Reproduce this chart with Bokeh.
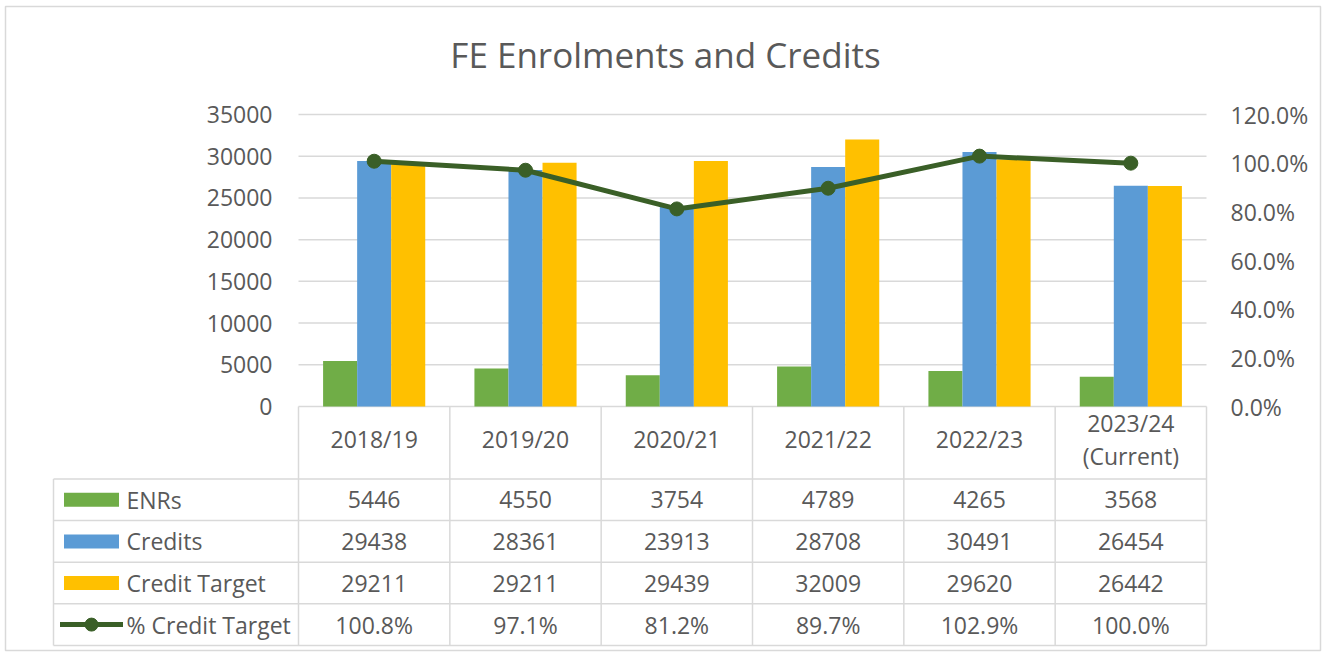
from bokeh.plotting import figure
from bokeh.models import (Range1d, LinearAxis, FixedTicker, NumeralTickFormatter,
                          ColumnDataSource)
from bokeh.embed import file_html
from bokeh.resources import INLINE
from bokeh.core.properties import value

# ---------------- data ----------------
title = "FE Enrolments and Credits"
categories = ["2018/19", "2019/20", "2020/21", "2021/22", "2022/23", "2023/24\n(Current)"]
series_names = ["ENRs", "Credits", "Credit Target", "% Credit Target"]
enrs = [5446, 4550, 3754, 4789, 4265, 3568]
credits = [29438, 28361, 23913, 28708, 30491, 26454]
credit_target = [29211, 29211, 29439, 32009, 29620, 26442]
pct_credit_target = [1.008, 0.971, 0.812, 0.897, 1.029, 1.000]
left_ticks = [0, 5000, 10000, 15000, 20000, 25000, 30000, 35000]
right_ticks = [0.0, 0.2, 0.4, 0.6, 0.8, 1.0, 1.2]
LEFT_MAX, RIGHT_MAX = 35000, 1.2

# ---------------- style / layout ----------------
FONT = "Open Sans"
FS = "23px"
TXT = "#595959"
GRID = "#d9d9d9"
BAR_COLORS = ["#70AD47", "#5B9BD5", "#FFC000"]
LINE_C = "#3A5F27"

W, H = 1326, 655
PLOT_L, PLOT_R, PLOT_T, PLOT_B = 298, 1206, 114, 406
n = len(categories)
COLW = (PLOT_R - PLOT_L) / n
PLOT_H = PLOT_B - PLOT_T
BAR_W = 0.225


def vrange(vmax):
    per_px = vmax / PLOT_H
    return Range1d(-(H - PLOT_B) * per_px, vmax + PLOT_T * per_px)


p = figure(width=W, height=H,
           x_range=Range1d(-PLOT_L / COLW, (W - PLOT_L) / COLW),
           y_range=vrange(LEFT_MAX),
           x_axis_location=None, y_axis_location="left",
           output_backend="svg", toolbar_location=None,
           min_border_left=0, min_border_right=0, min_border_top=0, min_border_bottom=0)
p.outline_line_color = None
p.grid.visible = False
p.extra_y_ranges = {"pct": vrange(RIGHT_MAX), "px": Range1d(H, 0)}
p.extra_x_ranges = {"px": Range1d(0, W)}

# chart border
p.quad(left=[5], right=[W - 6], top=[6], bottom=[650], x_range_name="px",
       y_range_name="px", fill_color=None, line_color=GRID, line_width=1.5)

# gridlines at tick values
p.segment(x0=[0] * len(left_ticks), x1=[n] * len(left_ticks), y0=left_ticks,
          y1=left_ticks, line_color=GRID, line_width=1.5)

xs = [i + 0.5 for i in range(n)]
src = ColumnDataSource(dict(x=xs, enrs=enrs, credits=credits,
                            target=credit_target, pct=pct_credit_target))
for off, col, c in zip([-BAR_W, 0, BAR_W], ["enrs", "credits", "target"], BAR_COLORS):
    p.vbar(x=[v + off for v in xs], top=src.data[col], width=BAR_W,
           fill_color=c, line_color=None)

p.line(x="x", y="pct", source=src, y_range_name="pct", line_color=LINE_C,
       line_width=5, line_join="round")
p.scatter(x="x", y="pct", source=src, y_range_name="pct", size=14,
          fill_color=LINE_C, line_color=LINE_C)

# axes
lax = p.yaxis[0]
lax.fixed_location = 0
lax.ticker = FixedTicker(ticks=left_ticks)
lax.formatter = NumeralTickFormatter(format="0")
rax = LinearAxis(y_range_name="pct", ticker=FixedTicker(ticks=right_ticks),
                 formatter=NumeralTickFormatter(format="0.0%"), fixed_location=n)
p.add_layout(rax, "right")
for ax, so in [(lax, 26), (rax, 24)]:
    ax.axis_line_color = None
    ax.major_tick_line_color = None
    ax.minor_tick_line_color = None
    ax.major_tick_in = 0
    ax.major_tick_out = 0
    ax.major_label_standoff = so
    ax.major_label_text_font = FONT
    ax.major_label_text_font_size = FS
    ax.major_label_text_color = TXT

# title
p.text(x=[665], y=[54], text=[title], x_range_name="px", y_range_name="px",
       text_align="center", text_baseline="middle", text_font=value(FONT),
       text_font_size=value("35px"), text_color=TXT)

# ---------------- data table ----------------
col_edges = [PLOT_L + i * COLW for i in range(n + 1)]
col_centers = [PLOT_L + (i + 0.5) * COLW for i in range(n)]
TBL_L = 53
HEAD_T, HEAD_B, ROW_H = PLOT_B, 478.5, 41.6
nrows = len(series_names)
row_edges = [HEAD_B + j * ROW_H for j in range(nrows + 1)]
row_centers = [HEAD_B + (j + 0.5) * ROW_H for j in range(nrows)]

x0, y0, x1, y1 = [], [], [], []
for ye in row_edges:
    x0.append(TBL_L); x1.append(col_edges[-1]); y0.append(ye); y1.append(ye)
for xe in col_edges:
    x0.append(xe); x1.append(xe); y0.append(HEAD_T); y1.append(row_edges[-1])
x0.append(TBL_L); x1.append(TBL_L); y0.append(HEAD_B); y1.append(row_edges[-1])
p.segment(x0=x0, y0=y0, x1=x1, y1=y1, x_range_name="px", y_range_name="px",
          line_color=GRID, line_width=1.5)

# header
p.text(x=col_centers, y=[(HEAD_T + HEAD_B) / 2 - 3.5] * n, text=categories,
       x_range_name="px", y_range_name="px",
       text_align="center", text_baseline="middle", text_font=value(FONT),
       text_font_size=value(FS), text_color=TXT, text_line_height=1.04)

# cells
rows_vals = [
    [str(v) for v in enrs],
    [str(v) for v in credits],
    [str(v) for v in credit_target],
    ["%.1f%%" % (v * 100) for v in pct_credit_target],
]
cx, cy, ct = [], [], []
for j, vals in enumerate(rows_vals):
    for i, s in enumerate(vals):
        cx.append(col_centers[i]); cy.append(row_centers[j]); ct.append(s)
p.text(x=cx, y=cy, text=ct, x_range_name="px", y_range_name="px",
       text_align="center", text_baseline="middle",
       text_font=value(FONT), text_font_size=value(FS), text_color=TXT)

# legend keys
KEY_CX = 91
p.rect(x=[KEY_CX] * 3, y=row_centers[:3], width=55, height=14,
       x_range_name="px", y_range_name="px", fill_color=BAR_COLORS, line_color=None)
p.segment(x0=[KEY_CX - 31.5], x1=[KEY_CX + 31.5], y0=[row_centers[3]], y1=[row_centers[3]],
          x_range_name="px", y_range_name="px", line_color=LINE_C, line_width=5)
p.scatter(x=[KEY_CX], y=[row_centers[3]], size=13, x_range_name="px", y_range_name="px",
          fill_color=LINE_C, line_color=LINE_C)
p.text(x=[126] * nrows, y=row_centers, text=series_names, x_range_name="px",
       y_range_name="px", text_align="left", text_baseline="middle",
       text_font=value(FONT), text_font_size=value(FS), text_color=TXT)

open("out.html", "w").write(file_html(p, INLINE))
